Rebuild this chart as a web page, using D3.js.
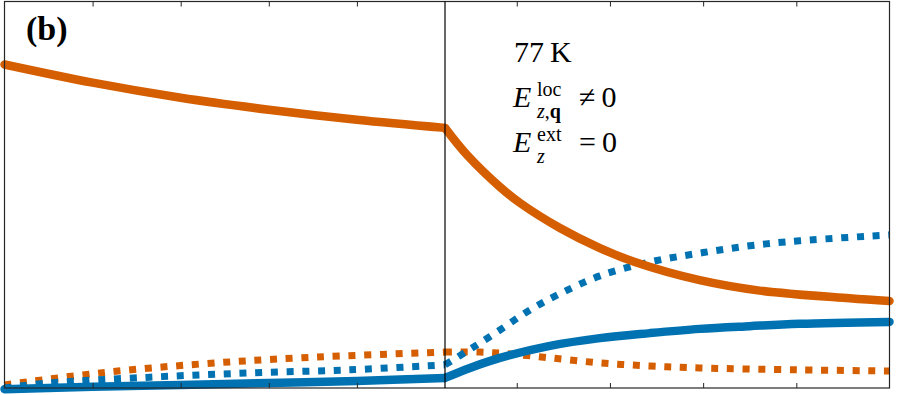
<!DOCTYPE html>
<html>
<head>
<meta charset="utf-8">
<script src="https://cdn.jsdelivr.net/npm/d3@7"></script>
<style>
  body { margin: 0; background: #fff; }
  svg { display: block; }
  .lbl { font-family: "Liberation Serif", "DejaVu Serif", serif; fill: #000; }
</style>
</head>
<body>
<div id="chart"></div>
<script>
	/* ---------------------------------
		Data
	------------------------------------*/

	// left half: x in [0, 5]
	var leftTicks = [1, 2, 3, 4];
	var orangeSolidL = [[0, 0.837], [1, 0.790], [2, 0.751], [3, 0.720], [4, 0.694], [5, 0.673]];
	var blueSolidL   = [[0, -0.003], [1, 0.003], [2, 0.008], [3, 0.013], [4, 0.018], [5, 0.026]];
	var blueDotL     = [[0, 0.000], [0.51, 0.013], [1.65, 0.028], [2.78, 0.039], [3.92, 0.047], [5, 0.060]];
	var orangeDotL   = [[0, 0.008], [1.084, 0.039], [2.219, 0.062], [3.354, 0.078], [5, 0.093]];

	// right half: x in [0.23, 5]
	var rightTicks = [1, 2, 3, 4];
	var orangeSolidR = [[0.23, 0.673], [0.466, 0.603], [0.82, 0.520], [1.034, 0.479], [1.463, 0.414],
	                    [1.892, 0.362], [2.267, 0.326], [2.963, 0.279], [3.606, 0.252], [4.571, 0.232], [5.0, 0.225]];
	var blueSolidR   = [[0.23, 0.026], [0.498, 0.052], [0.82, 0.078], [1.356, 0.109], [1.892, 0.129],
	                    [2.428, 0.142], [2.964, 0.153], [3.5, 0.160], [4.035, 0.166], [5.0, 0.171]];
	var blueDotR     = [[0.23, 0.060], [0.498, 0.100], [0.82, 0.150], [1.142, 0.202], [1.464, 0.244],
	                    [1.892, 0.290], [2.428, 0.326], [2.964, 0.349], [3.5, 0.368], [4.035, 0.381], [5.0, 0.396]];
	var orangeDotR   = [[0.23, 0.093], [0.605, 0.093], [0.93, 0.088], [1.355, 0.078], [1.89, 0.065],
	                    [2.43, 0.057], [2.96, 0.052], [4.03, 0.047], [5.0, 0.044]];

	var blue = "#0072b2";
	var orange = "#d55e00";

	/* ---------------------------------
		Setup
	------------------------------------*/
	var w = 897, h = 395;
	var padLeft = 4.5, mid = 445, padRight = 889.5, padTop = 1.5, padBottom = 388;

	var xL = d3.scaleLinear().domain([0, 5]).range([padLeft, mid]);
	var xR = d3.scaleLinear().domain([0.23, 5]).range([mid, padRight]);
	var yScale = d3.scaleLinear().domain([0, 1]).range([padBottom, padTop]);

	var svg = d3.select("#chart").append("svg")
		.attr("width", w)
		.attr("height", h);

	function lineFor(xs) {
		return d3.line()
			.x(function(d) { return xs(d[0]); })
			.y(function(d) { return yScale(d[1]); })
			.curve(d3.curveCatmullRom.alpha(0.5));
	}

	// Draw the series
	var series = [
		{ data: orangeDotL, x: xL, color: orange, dash: "7,8.7" },
		{ data: orangeDotR, x: xR, color: orange, dash: "7,8.7" },
		{ data: blueDotL, x: xL, color: blue, dash: "7,8.7" },
		{ data: blueDotR, x: xR, color: blue, dash: "7,8.7" },
		{ data: orangeSolidL, x: xL, color: orange, dash: null },
		{ data: orangeSolidR, x: xR, color: orange, dash: null },
		{ data: blueSolidL, x: xL, color: blue, dash: null },
		{ data: blueSolidR, x: xR, color: blue, dash: null }
	];

	series.forEach(function(s) {
		svg.append("path")
			.datum(s.data)
			.attr("fill", "none")
			.attr("stroke", s.color)
			.attr("stroke-width", s.dash ? 7 : 8.5)
			.attr("stroke-linecap", s.dash ? "butt" : "round")
			.attr("stroke-linejoin", "round")
			.attr("stroke-dasharray", s.dash)
			.attr("d", lineFor(s.x));
	});

	/* ---------------------------------
		Frame, ticks, divider
	------------------------------------*/
	function addAxis(axis, ty) {
		var g = svg.append("g")
			.attr("transform", "translate(0," + ty + ")")
			.call(axis.tickSizeInner(-5).tickSizeOuter(0).tickFormat(""));
		g.select(".domain").remove();
		g.selectAll(".tick line").attr("stroke", "#262626").attr("stroke-width", 1);
	}
	addAxis(d3.axisBottom(xL).tickValues(leftTicks), padBottom);
	addAxis(d3.axisBottom(xR).tickValues(rightTicks), padBottom);
	addAxis(d3.axisTop(xL).tickValues(leftTicks), padTop);
	addAxis(d3.axisTop(xR).tickValues(rightTicks), padTop);

	svg.append("rect")
		.attr("x", padLeft).attr("y", padTop)
		.attr("width", padRight - padLeft).attr("height", padBottom - padTop)
		.attr("fill", "none")
		.attr("stroke", "#262626")
		.attr("stroke-width", 1.2);

	svg.append("line")
		.attr("x1", mid).attr("x2", mid)
		.attr("y1", padTop).attr("y2", padBottom)
		.attr("stroke", "#000")
		.attr("stroke-width", 1.2);

	/* ---------------------------------
		Labels
	------------------------------------*/
	svg.append("text").attr("class", "lbl")
		.attr("x", 26).attr("y", 40)
		.attr("font-size", 34).attr("font-weight", "bold")
		.text("(b)");

	svg.append("text").attr("class", "lbl")
		.attr("x", 514).attr("y", 62)
		.attr("font-size", 30)
		.text("77\u2009K");

	function eLine(yb, sup, subParts, rel) {
		var t = svg.append("text").attr("class", "lbl");
		t.append("tspan").attr("x", 513).attr("y", yb)
			.attr("font-size", 30).attr("font-style", "italic").text("E");
		t.append("tspan").attr("x", 537).attr("y", yb - 11)
			.attr("font-size", 20).text(sup);
		var sub = t.append("tspan").attr("x", 537).attr("y", yb + 11).attr("font-size", 20);
		subParts.forEach(function(p, i) {
			var sp = i === 0 ? sub : t.append("tspan").attr("font-size", 20);
			sp.text(p.t);
			if (p.it) sp.attr("font-style", "italic");
			if (p.bold) sp.attr("font-weight", "bold");
		});
		t.append("tspan").attr("x", 579).attr("y", yb)
			.attr("font-size", 30).text(rel);
	}
	eLine(107, "loc", [{ t: "z", it: true }, { t: "," }, { t: "q", bold: true }], "\u2260\u20090");
	eLine(152, "ext", [{ t: "z", it: true }], "=\u20090");
</script>
</body>
</html>
